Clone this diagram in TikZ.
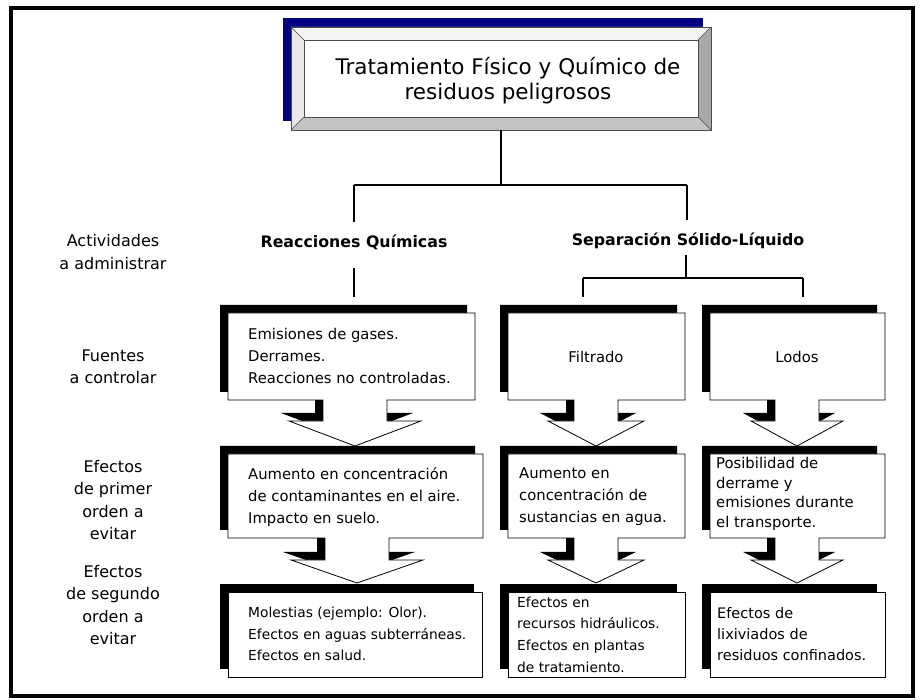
\documentclass[tikz,border=0pt]{standalone}
\usepackage{fontspec}
\setmainfont{DejaVu Sans}
\definecolor{navyblue}{HTML}{000080}
\definecolor{bevtop}{HTML}{F4F4F4}
\definecolor{bevleft}{HTML}{E8E8E8}
\definecolor{bevright}{HTML}{A8A8A8}
\definecolor{bevbot}{HTML}{C4C4C4}
\tikzset{
  conn/.style={line width=2pt},
  boxline/.style={draw=black,line width=0.8pt,fill=white},
  bevline/.style={draw=black!70,line width=0.5pt},
  ttl/.style={font=\fontsize{21.5}{25}\selectfont,align=center,inner sep=0},
  head/.style={font=\bfseries\fontsize{15.8}{18}\selectfont,inner sep=0},
  side/.style={font=\fontsize{16}{22.5}\selectfont,align=center,inner sep=0},
  txt/.style={font=\fontsize{14.8}{22}\selectfont,align=left,anchor=west,inner sep=0},
  txts/.style={font=\fontsize{13.8}{21.7}\selectfont,align=left,anchor=west,inner sep=0},
  txtc/.style={font=\fontsize{14.8}{19.8}\selectfont,align=left,anchor=west,inner sep=0},
  txtd/.style={font=\fontsize{14.5}{21}\selectfont,align=left,anchor=west,inner sep=0},
  single/.style={font=\fontsize{14.8}{22}\selectfont,inner sep=0},
}
% x1 y1 x2 y2 cx shaft-halfwidth wing-halfwidth wing-y tip-y
\newcommand{\callbox}[9]{%
  \fill[black,shift={(-8,-8)}] (#1,#2) -- (#3,#2) -- (#3,#4) -- (#5+#6,#4) -- (#5+#6,#8) -- (#5+#7,#8) -- (#5,#9) -- (#5-#7,#8) -- (#5-#6,#8) -- (#5-#6,#4) -- (#1,#4) -- cycle;
  \draw[boxline] (#1,#2) -- (#3,#2) -- (#3,#4) -- (#5+#6,#4) -- (#5+#6,#8) -- (#5+#7,#8) -- (#5,#9) -- (#5-#7,#8) -- (#5-#6,#8) -- (#5-#6,#4) -- (#1,#4) -- cycle;}
\newcommand{\plainbox}[4]{%
  \fill[black] (#1-8,#2-8) rectangle (#3-8,#4-8);
  \draw[boxline] (#1,#2) rectangle (#3,#4);}
\begin{document}
\begin{tikzpicture}[x=1pt,y=-1pt]
\useasboundingbox (0,0) rectangle (922,700);
% outer frame
\draw[line width=3.5pt] (11,8) rectangle (913,696);

% title box with bevel and navy shadow
\fill[navyblue] (283,18) rectangle (703,121);
\fill[bevtop] (291,27) -- (711,27) -- (698,40) -- (304,40) -- cycle;
\fill[bevleft] (291,27) -- (304,40) -- (304,117) -- (291,130) -- cycle;
\fill[bevright] (711,27) -- (711,130) -- (698,117) -- (698,40) -- cycle;
\fill[bevbot] (291,130) -- (711,130) -- (698,117) -- (304,117) -- cycle;
\draw[bevline] (291,27) rectangle (711,130);
\draw[bevline,fill=white] (304,40) rectangle (698,117);
\draw[bevline] (291,27) -- (304,40) (711,27) -- (698,40) (291,130) -- (304,117) (711,130) -- (698,117);
\node[ttl] (title) at (508,80.5) {Tratamiento Físico y Químico de\\residuos peligrosos};

% connectors
\coordinate (tbot) at (501,130);
\coordinate (tj) at (501,185);
\coordinate (jl) at (354,185);
\coordinate (jr) at (687,185);
\coordinate (reacin) at (354,222);
\coordinate (sepin) at (687,220);
\node[head] (reac) at (354,242) {Reacciones Químicas};
\node[head] (sep) at (688,241) {Separación Sólido-Líquido};
\coordinate (reacout) at (354,268);
\coordinate (reacend) at (354,297);
\coordinate (sepout) at (686,255);
\coordinate (sepj) at (686,278);
\coordinate (sjl) at (583,278);
\coordinate (sjr) at (803,278);
\coordinate (sjlend) at (583,297);
\coordinate (sjrend) at (803,297);
\draw[conn] (tbot) -- (tj);
\draw[conn] (jl) -- (jr);
\draw[conn] (jl) -- (reacin);
\draw[conn] (jr) -- (sepin);
\draw[conn] (reacout) -- (reacend);
\draw[conn] (sepout) -- (sepj);
\draw[conn] (sjl) -- (sjr);
\draw[conn] (sjl) -- (sjlend);
\draw[conn] (sjr) -- (sjrend);

% side labels
\node[side] (l1) at (113,252) {Actividades\\a administrar};
\node[side] (l2) at (113,367) {Fuentes\\a controlar};
\node[side] (l3) at (113,500) {Efectos\\de primer\\orden a\\evitar};
\node[side] (l4) at (113,605) {Efectos\\de segundo\\orden a\\evitar};

% row 1
\callbox{228}{313}{475}{400}{355}{32}{66}{421}{446}
\callbox{508}{313}{685}{400}{596}{22}{48}{421}{446}
\callbox{710}{313}{885}{400}{797}{22}{46}{421}{446}
\node[txt] (a1) at (248,356) {Emisiones de gases.\\Derrames.\\Reacciones no controladas.};
\node[single] (b1) at (596,357) {Filtrado};
\node[single] (c1) at (797,357) {Lodos};

% row 2
\callbox{228}{454}{483}{538}{357}{32}{66}{560}{583}
\callbox{508}{454}{685}{538}{596}{22}{48}{560}{583}
\callbox{710}{454}{885}{538}{797}{22}{46}{560}{583}
\node[txt] (a2) at (248,497) {Aumento en concentración\\de contaminantes en el aire.\\Impacto en suelo.};
\node[txt] (b2) at (519,497) {Aumento en\\concentración de\\sustancias en agua.};
\node[txtc] (c2) at (716,494) {Posibilidad de\\derrame y\\emisiones durante\\el transporte.};

% row 3
\plainbox{228}{592}{482}{677}
\plainbox{508}{592}{685}{677}
\plainbox{710}{592}{885}{677}
\node[txts] (a3) at (248,634) {Molestias (ejemplo: Olor).\\Efectos en aguas subterráneas.\\Efectos en salud.};
\node[txts] (b3) at (517,634.5) {Efectos en\\recursos hidráulicos.\\Efectos en plantas\\de tratamiento.};
\node[txtd] (c3) at (717,634) {Efectos de\\lixiviados de\\residuos confinados.};
\end{tikzpicture}
\end{document}
